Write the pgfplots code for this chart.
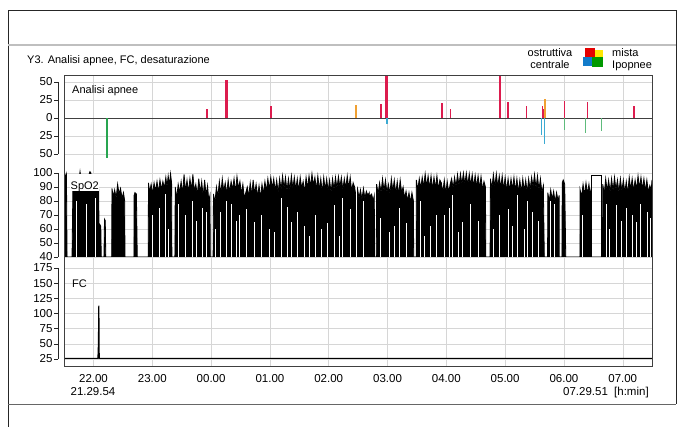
\documentclass[border=0pt]{standalone}
\usepackage{fontspec}
\setmainfont{Liberation Sans}
\usepackage{pgfplots}
\usepackage{pgfplotstable}
\pgfplotsset{compat=1.18}

\definecolor{ostr}{RGB}{220,28,78}
\definecolor{mista}{RGB}{240,160,50}
\definecolor{centr}{RGB}{60,170,210}
\definecolor{ipop}{RGB}{40,165,80}

% SpO2 upper envelope (h, %)
\pgfplotstableread{
h v
21.499 40
21.503 95
21.515 99
21.528 97
21.54 99
21.55 40
21.635 40
21.65 90
21.675 96
21.70 93
21.725 97
21.75 94
21.771 101
21.79 95
21.815 97
21.84 92
21.865 96
21.89 93
21.915 98
21.94 101
21.955 100
21.975 95
22.0 97
22.025 92
22.05 95
22.075 91
22.09 88
22.093 40
22.102 40
22.11 63
22.124 62
22.132 40
22.178 40
22.187 67
22.2 66
22.209 40
22.309 40
22.314 89
22.335 83
22.36 88
22.385 82
22.41 92
22.435 85
22.46 89
22.485 82
22.51 86
22.53 80
22.535 40
22.688 40
22.69 84
22.705 86
22.73 85
22.744 40
22.93 40
22.935 93
22.955 86
22.98 92
23.005 85
23.03 93
23.055 87
23.08 94
23.105 86
23.13 95
23.155 88
23.18 94
23.205 89
23.23 97
23.25 90
23.27 98
23.29 91
23.31 99.5
23.328 93
23.333 40
23.384 40
23.39 90
23.415 82
23.44 92
23.465 86
23.49 94
23.515 85
23.54 99
23.565 87
23.59 95
23.615 86
23.64 96
23.665 88
23.69 99
23.715 87
23.74 92
23.765 84
23.79 96
23.815 86
23.84 94
23.865 83
23.89 95
23.915 84
23.94 91
23.96 80
23.98 84
23.986 40
24.034 40
24.04 85
24.065 79
24.09 90
24.115 83
24.14 94
24.165 85
24.19 96
24.215 87
24.24 93
24.265 85
24.29 95
24.315 86
24.34 94
24.365 88
24.39 96
24.415 86
24.44 97.5
24.465 89
24.49 94
24.515 85
24.54 92
24.565 82
24.59 86
24.615 90
24.64 83
24.665 93
24.69 84
24.715 95
24.74 85
24.765 92
24.79 83
24.815 91
24.84 82
24.865 92
24.89 85
24.915 94
24.94 87
24.965 96
24.99 88
25.015 97
25.04 89
25.065 96
25.09 87
25.115 95
25.14 86
25.165 96
25.19 88
25.215 98
25.24 89
25.265 97
25.29 87
25.315 96
25.34 88
25.365 98
25.39 89
25.415 97
25.44 88
25.465 96
25.49 87
25.515 97
25.54 89
25.565 94
25.59 86
25.615 97
25.64 89
25.665 98
25.69 90
25.715 99.5
25.74 91
25.765 97
25.79 88
25.815 98
25.84 88
25.865 96
25.89 86
25.915 97
25.94 88
25.965 96
25.99 87
26.015 95
26.04 86
26.065 96
26.09 88
26.115 97
26.14 89
26.165 97.5
26.19 90
26.215 97
26.24 88
26.265 96
26.29 89
26.315 98
26.34 89
26.365 97
26.39 87
26.415 93
26.44 90
26.465 83
26.49 89
26.515 82
26.54 88
26.565 81
26.59 89
26.615 82
26.64 87
26.665 84
26.69 86
26.693 40
26.703 40
26.706 84
26.73 85
26.755 80
26.775 84
26.779 40
26.808 40
26.815 92
26.84 85
26.865 93
26.89 86
26.915 96
26.94 87
26.965 95
26.99 86
27.015 92
27.04 85
27.065 96
27.09 87
27.115 95
27.14 85
27.165 94
27.19 84
27.215 95
27.24 86
27.265 90
27.29 82
27.315 87
27.34 80
27.365 86
27.39 79
27.415 86
27.44 80
27.445 40
27.487 40
27.49 95
27.515 88
27.54 96
27.565 89
27.59 97
27.615 90
27.64 99.5
27.665 90
27.69 98
27.715 89
27.74 98
27.765 88
27.79 97
27.815 89
27.84 98
27.865 88
27.89 95
27.915 93
27.94 86
27.965 95
27.99 85
28.015 94
28.04 86
28.065 92
28.09 96
28.115 89
28.14 97
28.165 90
28.19 99
28.215 91
28.24 99.5
28.265 92
28.29 100
28.315 92
28.34 100
28.365 91
28.39 99.5
28.415 91
28.44 99
28.465 90
28.49 98.5
28.515 90
28.54 98
28.565 89
28.59 97.5
28.615 88
28.64 94
28.665 90
28.672 40
28.744 40
28.75 96
28.775 89
28.8 99
28.825 90
28.85 99.5
28.875 90
28.9 98
28.925 89
28.95 98
28.975 88
29.0 97
29.025 87
29.05 96
29.075 87
29.1 96
29.125 88
29.15 97
29.175 87
29.2 96
29.225 86
29.25 95
29.275 86
29.3 96
29.325 87
29.35 95
29.375 86
29.4 96
29.425 88
29.45 97
29.475 90
29.5 99
29.525 89
29.55 98
29.575 88
29.6 96
29.625 86
29.65 91
29.666 40
29.722 40
29.725 86
29.75 80
29.775 88
29.8 81
29.825 87
29.85 79
29.875 86
29.9 80
29.918 84
29.92 40
29.966 40
29.971 93
29.988 95
30.013 92
30.031 40
30.272 40
30.275 88
30.3 83
30.325 92
30.35 84
30.375 93
30.4 85
30.425 92
30.45 83
30.462 89
30.464 40
30.656 40
30.66 92
30.685 85
30.71 96
30.735 87
30.76 95
30.785 86
30.81 96
30.835 87
30.86 97
30.885 88
30.91 95
30.935 86
30.96 96
30.985 87
31.01 95
31.035 86
31.06 94
31.085 85
31.11 97
31.135 88
31.16 96
31.185 87
31.21 95
31.235 88
31.26 98
31.285 89
31.31 97
31.335 88
31.36 96
31.385 87
31.41 95
31.435 86
31.46 91
31.485 88
31.4975 95
31.4975 40
}\spoenv

% white gaps inside the SpO2 trace (h, top of gap)
\pgfplotstableread{
h v
21.703 80
21.873 78
22.025 82
23.0 70
23.112 75
23.214 85
23.27 60
23.45 78
23.553 70
23.672 80
23.75 66
23.842 75
23.92 72
24.07 60
24.148 72
24.25 80
24.346 78
24.42 66
24.487 70
24.60 74
24.742 65
24.85 70
24.997 60
25.08 58
25.195 82
25.30 76
25.365 65
25.472 72
25.58 62
25.676 55
25.78 70
25.880 60
25.98 64
26.100 77
26.18 55
26.236 82
26.36 74
26.469 90
26.58 80
26.87 68
27.034 58
27.119 62
27.20 75
27.32 64
27.55 80
27.628 55
27.72 62
27.827 70
27.97 70
28.053 75
28.109 84
28.20 58
28.274 65
28.40 78
28.55 66
28.80 60
28.902 70
29.05 74
29.13 62
29.207 84
29.326 60
29.38 80
29.462 72
29.57 66
29.768 80
29.835 78
30.32 70
30.72 78
30.769 60
30.883 77
30.98 66
31.053 75
31.165 70
31.222 65
31.30 78
31.414 72
31.47 68
}\spogaps

\pgfplotsset{
  panel/.style={
    scale only axis, width=588pt,
    xmin=21.4983, xmax=31.4975,
    anchor=north west,
    axis line style={draw=none},
    xtick={22,...,31}, xticklabels={},
    xmajorgrids, ymajorgrids,
    grid style={black!16, line width=0.5pt},
    major tick length=0pt,
    tick label style={font=\fontsize{11.5}{13}\selectfont},
    yticklabel style={xshift=-8pt},
    /pgf/number format/assume math mode=true,
    clip mode=individual,
  },
}

\begin{document}
\begin{tikzpicture}
\useasboundingbox (0,0) rectangle (682pt,-427pt);

% page frame
\draw[black!85, line width=0.8pt] (8pt,-427pt) -- (8pt,-10pt) -- (676pt,-10pt) -- (676pt,-404pt);
\draw[black!25, line width=1.5pt] (8pt,-45pt) -- (676pt,-45pt);
\draw[black!60, line width=0.8pt] (8pt,-404pt) -- (676pt,-404pt);

\node[anchor=base west, inner sep=0pt, font=\fontsize{11}{13}\selectfont] at (27pt,-64pt) {Y3. Analisi apnee, FC, desaturazione};

% legend
\fill[yellow!90!orange] (593pt,-50pt) rectangle (603pt,-59pt);
\fill[red!90!black] (585pt,-48pt) rectangle (595pt,-58pt);
\fill[cyan!60!blue] (583pt,-57pt) rectangle (593pt,-66pt);
\fill[green!60!black] (592pt,-57pt) rectangle (603pt,-67pt);
\node[anchor=base, inner sep=0pt, font=\fontsize{11}{13}\selectfont] at (550pt,-57pt) {ostruttiva};
\node[anchor=base, inner sep=0pt, font=\fontsize{11}{13}\selectfont] at (550pt,-69pt) {centrale};
\node[anchor=base west, inner sep=0pt, font=\fontsize{11}{13}\selectfont] at (612pt,-57pt) {mista};
\node[anchor=base west, inner sep=0pt, font=\fontsize{11}{13}\selectfont] at (612pt,-69pt) {Ipopnee};

% Analisi apnee
\begin{axis}[panel, at={(64pt,-76pt)}, height=87pt,
  ymin=-62.5, ymax=58.33,
  ytick={50,25,-25,-50}, yticklabels={50,25,25,50},
  extra y ticks={0}, extra y tick labels={0},
  extra y tick style={grid style={black!75, line width=0.9pt}},
]
\addplot[ostr, ycomb, line width=1.4pt] coordinates {
  (23.932,12) (25.019,17) (26.886,19) (27.929,21) (28.075,12)
  (29.049,22) (29.360,17) (29.632,17) (29.654,12) (30.005,23)
  (30.401,22) (31.193,17)};
\addplot[ostr, ycomb, line width=2.2pt] coordinates {
  (24.262,53) (26.983,58) (28.913,58)};
\addplot[mista, ycomb, line width=1.4pt] coordinates {
  (26.462,18) (29.678,27)};
\addplot[centr, ycomb, line width=1.3pt] coordinates {
  (26.992,-8) (29.620,-24) (29.671,-36)};
\addplot[ipop, ycomb, line width=1.8pt] coordinates {(22.234,-56)};
\addplot[ipop!75, ycomb, line width=1.2pt] coordinates {
  (30.010,-17) (30.373,-21) (30.638,-18)};
\draw[black!85, line width=0.6pt] ([xshift=-6pt]axis cs:21.4983,50) -- ([xshift=-6pt]axis cs:21.4983,-50);
\pgfplotsinvokeforeach{50,25,0,-25,-50}{
  \draw[black!85, line width=0.6pt] ([xshift=-10pt]axis cs:21.4983,#1) -- ([xshift=-6pt]axis cs:21.4983,#1);}
\end{axis}

% SpO2
\begin{axis}[panel, at={(64pt,-163pt)}, height=94pt,
  ymin=40, ymax=107.14,
  ytick={40,50,...,100},
]
\addplot[fill=black, draw=black, line width=0.8pt] table[x=h, y=v] {\spoenv};
\addplot[white, ycomb, line width=0.6pt] table[x=h, y=v] {\spogaps};
\addplot[black, line width=1pt] coordinates {
  (30.475,40) (30.475,98.1) (30.645,98.1) (30.645,40)};
\draw[black!85, line width=0.6pt] ([xshift=-6pt]axis cs:21.4983,100) -- ([xshift=-6pt]axis cs:21.4983,40);
\pgfplotsinvokeforeach{40,50,...,100}{
  \draw[black!85, line width=0.6pt] ([xshift=-10pt]axis cs:21.4983,#1) -- ([xshift=-6pt]axis cs:21.4983,#1);}
\end{axis}

% FC
\begin{axis}[panel, at={(64pt,-257pt)}, height=109pt,
  ymin=13.46, ymax=193.1,
  ytick={25,50,...,175},
  xticklabels={22.00,23.00,00.00,01.00,02.00,03.00,04.00,05.00,06.00,07.00},
  xticklabel style={yshift=-5pt},
]
\addplot[black, line width=1.2pt] coordinates {
  (21.4983,26) (22.075,26) (22.082,40) (22.085,70) (22.087,30)
  (22.089,68) (22.091,113) (22.093,60) (22.095,40) (22.097,30)
  (22.100,26) (31.4975,26)};
\draw[black!85, line width=0.6pt] ([xshift=-6pt]axis cs:21.4983,175) -- ([xshift=-6pt]axis cs:21.4983,25);
\pgfplotsinvokeforeach{25,50,...,175}{
  \draw[black!85, line width=0.6pt] ([xshift=-10pt]axis cs:21.4983,#1) -- ([xshift=-6pt]axis cs:21.4983,#1);}
\end{axis}

% plot frame and panel labels
\draw[black!75, line width=1pt] (64pt,-76pt) rectangle (652pt,-366pt);
\node[anchor=base west, inner sep=0pt, font=\fontsize{11}{13}\selectfont] at (72pt,-94pt) {Analisi apnee};
\fill[white] (70pt,-174pt) rectangle (99pt,-191.5pt);
\node[anchor=base west, inner sep=0pt, font=\fontsize{11}{13}\selectfont] at (70.5pt,-190pt) {SpO2};
\node[anchor=base west, inner sep=0pt, font=\fontsize{11}{13}\selectfont] at (72pt,-288pt) {FC};
\node[anchor=base, inner sep=0pt, font=\fontsize{11.5}{13}\selectfont] at (93pt,-395pt) {21.29.54};
\node[anchor=base west, inner sep=0pt, font=\fontsize{11.5}{13}\selectfont] at (563pt,-395pt) {07.29.51};
\node[anchor=base west, inner sep=0pt, font=\fontsize{11.5}{13}\selectfont] at (614pt,-395pt) {[h:min]};
\end{tikzpicture}
\end{document}
